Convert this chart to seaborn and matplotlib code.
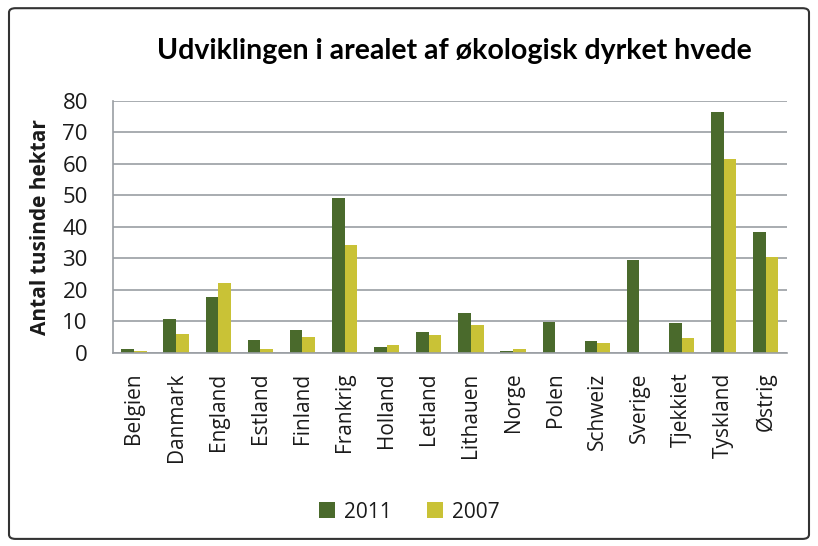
import pandas as pd
import numpy as np
import matplotlib.pyplot as plt
import seaborn as sns
from matplotlib.patches import FancyBboxPatch

countries = ["Belgien", "Danmark", "England", "Estland", "Finland", "Frankrig",
             "Holland", "Letland", "Lithauen", "Norge", "Polen", "Schweiz",
             "Sverige", "Tjekkiet", "Tyskland", "Østrig"]
area_2011 = [1.4, 10.8, 17.9, 4.2, 7.2, 49.0, 1.8, 6.6, 12.8, 0.5, 9.8, 3.8,
             29.4, 9.5, 76.5, 38.3]
area_2007 = [0.5, 5.9, 22.2, 1.4, 5.1, 34.3, 2.6, 5.8, 8.8, 1.4, 0.0, 3.1,
             0.0, 4.6, 61.6, 30.6]
years = ["2011", "2007"]
colors = ["#4a6a2c", "#c9c236"]

df = pd.DataFrame({
    "land": countries * 2,
    "aar": [years[0]] * len(countries) + [years[1]] * len(countries),
    "areal": area_2011 + area_2007,
})

sns.set_style("white")
plt.rcParams["font.family"] = ["Open Sans", "DejaVu Sans"]
plt.rcParams["text.color"] = "#1a1a1a"
plt.rcParams["axes.labelcolor"] = "#1a1a1a"
plt.rcParams["xtick.labelcolor"] = "#1a1a1a"
plt.rcParams["ytick.labelcolor"] = "#1a1a1a"
grey = "#9a9ea3"

fig = plt.figure(figsize=(8.18, 5.46), dpi=100)
ax = fig.add_axes([0.138, 0.3535, 0.824, 0.462])

sns.barplot(data=df, x="land", y="areal", hue="aar", palette=colors,
            width=0.6, gap=0, ax=ax, saturation=1, linewidth=0)

ax.set_ylim(0, 80)
ax.set_yticks(range(0, 81, 10))
ax.set_xlim(-0.5, len(countries) - 0.5)
ax.yaxis.grid(True, color=grey, linewidth=1.2)
ax.set_axisbelow(True)
for s in ["top", "right"]:
    ax.spines[s].set_visible(False)
for s in ["left", "bottom"]:
    ax.spines[s].set_color(grey)
    ax.spines[s].set_linewidth(1.2)

# labels centred on groups, tick marks between groups
ax.set_xticks(range(len(countries)))
ax.set_xticklabels(countries, rotation=90, fontsize=15)
ax.set_xticks(np.arange(-0.5, len(countries), 1), minor=True)
ax.tick_params(axis="x", which="major", length=0, pad=14)
ax.tick_params(axis="x", which="minor", length=6, color=grey, width=1.2, direction="out")
ax.tick_params(axis="y", length=6, color=grey, width=1.2, direction="out", pad=12, labelsize=16)

ax.set_xlabel("")
ax.set_ylabel("Antal tusinde hektar", fontsize=15, fontweight="bold", labelpad=8)

fig.text(0.555, 0.906, "Udviklingen i arealet af økologisk dyrket hvede",
         ha="center", va="center", fontsize=20.5, fontweight="bold",
         color="black", family=["Lato", "DejaVu Sans"])

handles, labels = ax.get_legend_handles_labels()
ax.legend_.remove()
fig.legend(handles, labels, loc="center", bbox_to_anchor=(0.5, 0.062), ncol=2,
           frameon=False, handlelength=0.8, handleheight=0.8,
           columnspacing=1.7, handletextpad=0.4, prop={"size": 15})

border = FancyBboxPatch((0.011, 0.013), 0.978, 0.972, boxstyle="round,pad=0,rounding_size=0.008",
                        transform=fig.transFigure, fill=False, edgecolor="#333333", linewidth=1.5)
fig.patches.append(border)

fig.savefig("out.png", dpi=100)
